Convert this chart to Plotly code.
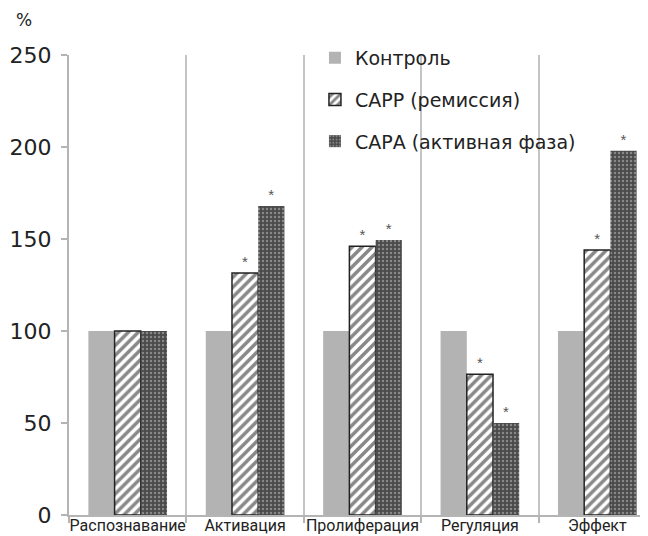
import plotly.graph_objects as go

categories = ["Распознавание", "Активация", "Пролиферация", "Регуляция", "Эффект"]
control = [100, 100, 100, 100, 100]
sarr = [100, 131.5, 146, 76.5, 144]
sara = [100, 168, 149.5, 50, 198]
sarr_marks = ["", "*", "*", "*", "*"]
sara_marks = ["", "*", "*", "*", "*"]
series_names = ["Контроль", "САРР (ремиссия)", "САРА (активная фаза)"]
y_ticks = [0, 50, 100, 150, 200, 250]

fig = go.Figure()
fig.add_trace(go.Bar(
    x=categories, y=control, name=series_names[0], legendgroup="a",
    marker=dict(color="#b3b3b3", line=dict(width=0)),
))
fig.add_trace(go.Bar(
    x=categories, y=sarr, name=series_names[1], legendgroup="b",
    text=sarr_marks, textposition="outside", cliponaxis=False,
    textfont=dict(size=15, color="#555555", family="Liberation Sans"),
    marker=dict(color="white", line=dict(width=1.5, color="#222222"),
                pattern=dict(shape="/", fgcolor="#111111", bgcolor="white",
                             size=7, solidity=0.5)),
))
fig.add_trace(go.Bar(
    x=categories, y=sara, name=series_names[2], legendgroup="c",
    text=sara_marks, textposition="outside", cliponaxis=False,
    textfont=dict(size=15, color="#555555", family="Liberation Sans"),
    marker=dict(color="#555555", line=dict(width=0),
                pattern=dict(shape=".", fgcolor="#c4c4c4", bgcolor="#4a4a4a",
                             size=4, solidity=0.3)),
))

fig.update_layout(
    width=648, height=536,
    margin=dict(l=61, r=0, t=47, b=29),
    plot_bgcolor="white", paper_bgcolor="white",
    barmode="group", bargap=0.33, bargroupgap=0,
    font=dict(family="DejaVu Sans", color="#222222"),
    showlegend=True,
    legend=dict(x=0.419, y=1.035, xanchor="left", yanchor="top",
                bgcolor="rgba(0,0,0,0)", font=dict(size=19, color="#222222",
                family="DejaVu Sans"),
                tracegroupgap=14, itemwidth=30),
    xaxis=dict(
        tickson="boundaries", showgrid=True, gridcolor="#c4c4c4", gridwidth=1.5,
        ticks="outside", ticklen=6, tickcolor="#b4b4b4", tickwidth=2,
        ticklabelstandoff=-5,
        showline=True, linecolor="#b4b4b4", linewidth=2, automargin=False,
        tickangle=0,
        tickfont=dict(family="Roboto", size=16, color="#222222"),
        range=[-0.5, 4.5],
    ),
    yaxis=dict(
        range=[0, 250], tickvals=y_ticks, showgrid=False, zeroline=False,
        ticks="outside", ticklen=6, tickcolor="#b4b4b4", tickwidth=2,
        ticklabelstandoff=5,
        showline=True, linecolor="#b4b4b4", linewidth=2, automargin=False,
        tickfont=dict(size=22, color="#222222", family="DejaVu Sans"),
    ),
    annotations=[dict(text="%", x=0, y=1.0, xref="paper", yref="paper",
                      xanchor="left", yanchor="bottom",
                      xshift=-55, yshift=23, showarrow=False,
                      font=dict(size=17, color="#222222", family="DejaVu Sans"))],
)

fig.write_html("out.html")
